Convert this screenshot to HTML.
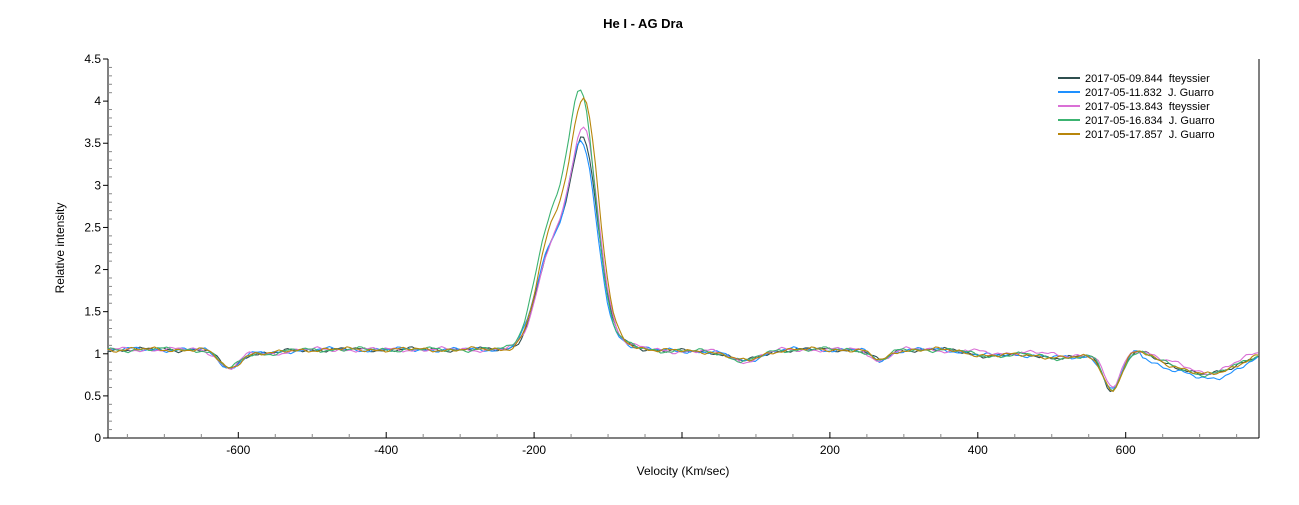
<!DOCTYPE html>
<html><head><meta charset="utf-8"><style>
body{margin:0;background:#fff;width:1299px;height:500px;overflow:hidden;font-family:"Liberation Sans",sans-serif}
svg text{font-family:"Liberation Sans",sans-serif;white-space:pre}
</style></head><body>
<svg id="s" width="1299" height="500" xmlns="http://www.w3.org/2000/svg">
<text x="643" y="28" text-anchor="middle" font-size="13" font-weight="bold">He I - AG Dra</text>
<text x="683" y="475" text-anchor="middle" font-size="12">Velocity (Km/sec)</text>
<text transform="translate(64,248) rotate(-90)" text-anchor="middle" font-size="12">Relative intensity</text>
<g id="ax"></g>
<g id="cv" fill="none" stroke-width="1.1"></g>
<g font-size="11">
<line x1="1058" y1="78" x2="1080" y2="78" stroke="#2f4f4f" stroke-width="2"/><text x="1085" y="82">2017-05-09.844  fteyssier</text>
<line x1="1058" y1="92" x2="1080" y2="92" stroke="#1e90ff" stroke-width="2"/><text x="1085" y="96">2017-05-11.832  J. Guarro</text>
<line x1="1058" y1="106" x2="1080" y2="106" stroke="#da70d6" stroke-width="2"/><text x="1085" y="110">2017-05-13.843  fteyssier</text>
<line x1="1058" y1="120" x2="1080" y2="120" stroke="#3cb371" stroke-width="2"/><text x="1085" y="124">2017-05-16.834  J. Guarro</text>
<line x1="1058" y1="134" x2="1080" y2="134" stroke="#b8860b" stroke-width="2"/><text x="1085" y="138">2017-05-17.857  J. Guarro</text>
</g>
</svg>
<script>
const X=v=>682+v*0.7395, Y=y=>438-y*84.22;
let a='';
a+='<line x1="108" y1="438" x2="1259" y2="438" stroke="#000"/><line x1="108" y1="59" x2="108" y2="438" stroke="#000"/><line x1="1259" y1="59" x2="1259" y2="438" stroke="#000"/>';
for(let i=0;i<=45;i++){let y=Y(i/10),l=i%5==0?0:4;if(l)a+=`<line x1="108" y1="${y}" x2="${108+l}" y2="${y}" stroke="#888"/>`;
if(i%5==0){a+=`<line x1="103" y1="${y}" x2="108" y2="${y}" stroke="#000"/><text x="101" y="${y+4}" text-anchor="end" font-size="12">${i/10}</text>`;}}
for(let v=-750;v<=750;v+=50){let x=X(v);if(v%200==0){a+=`<line x1="${x}" y1="432" x2="${x}" y2="438" stroke="#000"/>`;if(v!=0)a+=`<text x="${x}" y="454" text-anchor="middle" font-size="12">${v}</text>`;}else a+=`<line x1="${x}" y1="434" x2="${x}" y2="438" stroke="#888"/>`;}
document.getElementById('ax').innerHTML=a;
const g=(v,c,w)=>{const t=(v-c)/w;return Math.exp(-t*t/2);};
const S=[["#2f4f4f",3.55,1,0],["#1e90ff",3.5,2,-2],["#da70d6",3.65,3,1],["#3cb371",4.12,4,-3],["#b8860b",4.03,5,1]];
let c='';
for(const [col,h,sd,sh] of S){let p=[];
const k=(h-1.05)/2.5, B=1.1*k, A=(h-1.05)-0.135*B-0.02;
for(let v=-777;v<=780;v+=4){
let y=1.05-0.22*g(v,-612,14)-0.05*g(v,-560,20);
y+=A*g(v,-133+sh,19)+B*g(v,-177+sh,20)+0.12*g(v,-110,35);
y+=-0.02*g(v,0,60)-0.13*g(v,85,20)-0.13*g(v,268,12)-0.07*g(v,420,30)-0.1*g(v,520,40);
y+=-0.45*g(v,582,12)-0.3*g(v,710,40)-0.05*g(v,650,15);
y+=0.015*Math.sin(v*0.07+sd*1.7)+0.012*Math.sin(v*0.19+sd*2.3)+0.01*Math.sin(v*0.41+sd);
if(sd==2&&v>620)y-=0.05; if(sd==3&&v>380)y+=0.03;
p.push(X(v).toFixed(1)+','+Y(y).toFixed(1));}
c+=`<polyline stroke="${col}" points="${p.join(' ')}"/>`;}
document.getElementById('cv').innerHTML=c;
</script>
</body></html>
